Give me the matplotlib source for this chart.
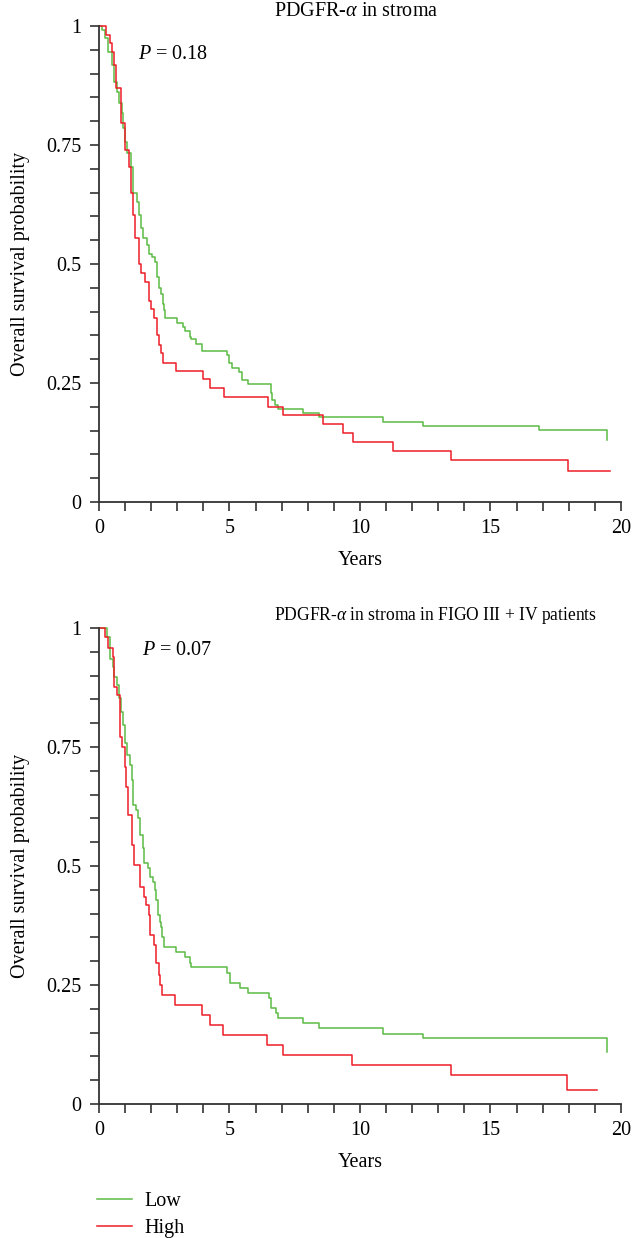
import matplotlib
matplotlib.use('Agg')
import matplotlib.pyplot as plt
from matplotlib.ticker import MultipleLocator

plt.rcParams['font.family'] = ['Liberation Serif', 'DejaVu Serif']
plt.rcParams['mathtext.fontset'] = 'custom'
plt.rcParams['mathtext.rm'] = 'Liberation Serif'
plt.rcParams['mathtext.it'] = 'Liberation Serif:italic'

# --- all patients: step times (years) and survival after each step
top_low_t = [0, 0.10, 0.23, 0.36, 0.50, 0.57, 0.68, 0.78, 0.87, 0.93, 1.01, 1.09, 1.21, 1.29,
             1.44, 1.52, 1.62, 1.70, 1.83, 1.93, 2.05, 2.13, 2.21, 2.30, 2.38, 2.44, 2.49, 2.54,
             2.98, 3.23, 3.31, 3.49, 3.54, 3.72, 3.93, 4.89, 4.99, 5.08, 5.38, 5.47, 5.72, 6.59,
             6.64, 6.74, 6.85, 7.80, 8.43, 10.89, 12.40, 16.85, 19.46]
top_low_s = [1, 0.992, 0.974, 0.946, 0.918, 0.883, 0.862, 0.838, 0.817, 0.785, 0.757, 0.733, 0.704,
             0.649, 0.631, 0.603, 0.575, 0.554, 0.540, 0.522, 0.515, 0.505, 0.473, 0.449, 0.438,
             0.417, 0.403, 0.386, 0.377, 0.368, 0.360, 0.346, 0.342, 0.332, 0.317, 0.309, 0.291,
             0.282, 0.274, 0.256, 0.247, 0.228, 0.214, 0.204, 0.195, 0.186, 0.178, 0.169, 0.160,
             0.152, 0.130]
top_low_end = 19.46

top_high_t = [0, 0.27, 0.42, 0.50, 0.57, 0.65, 0.83, 0.98, 1.14, 1.21, 1.29, 1.37, 1.52, 1.60,
              1.75, 1.90, 1.98, 2.12, 2.21, 2.30, 2.38, 2.44, 2.94, 3.97, 4.25, 4.79, 6.46, 7.04,
              8.59, 9.34, 9.72, 11.28, 13.47, 17.96]
top_high_s = [1, 0.981, 0.964, 0.946, 0.918, 0.870, 0.796, 0.739, 0.704, 0.649, 0.603, 0.554,
              0.499, 0.481, 0.463, 0.422, 0.405, 0.386, 0.351, 0.330, 0.312, 0.293, 0.275, 0.258,
              0.239, 0.220, 0.200, 0.183, 0.163, 0.146, 0.127, 0.108, 0.089, 0.066]
top_high_end = 19.58

# --- FIGO III + IV patients
bot_low_t = [0, 0.31, 0.44, 0.52, 0.59, 0.70, 0.76, 0.85, 0.93, 1.00, 1.08, 1.18, 1.26, 1.31,
             1.41, 1.49, 1.56, 1.67, 1.74, 1.87, 1.95, 2.06, 2.13, 2.20, 2.25, 2.32, 2.38, 2.43,
             2.51, 2.97, 3.29, 3.48, 3.53, 4.89, 5.01, 5.42, 5.70, 6.53, 6.61, 6.79, 6.85, 7.81,
             8.42, 10.89, 12.40, 19.46]
bot_low_s = [1, 0.982, 0.936, 0.919, 0.898, 0.880, 0.852, 0.824, 0.796, 0.758, 0.733, 0.712,
             0.681, 0.628, 0.618, 0.600, 0.565, 0.537, 0.506, 0.495, 0.478, 0.467, 0.450, 0.429,
             0.397, 0.383, 0.372, 0.351, 0.330, 0.320, 0.309, 0.297, 0.287, 0.276, 0.255, 0.244,
             0.234, 0.222, 0.201, 0.191, 0.180, 0.170, 0.159, 0.148, 0.138, 0.110]
bot_low_end = 19.46

bot_high_t = [0, 0.25, 0.34, 0.52, 0.59, 0.70, 0.80, 0.89, 0.98, 1.05, 1.10, 1.28, 1.36, 1.56,
              1.72, 1.79, 1.90, 1.94, 1.97, 2.10, 2.20, 2.29, 2.33, 2.42, 2.93, 3.95, 4.25, 4.76,
              6.44, 7.06, 9.70, 13.47, 17.94]
bot_high_s = [1, 0.982, 0.959, 0.940, 0.877, 0.859, 0.772, 0.751, 0.709, 0.667, 0.607, 0.544,
              0.502, 0.457, 0.436, 0.418, 0.397, 0.376, 0.355, 0.334, 0.296, 0.271, 0.250, 0.229,
              0.208, 0.187, 0.166, 0.145, 0.124, 0.103, 0.083, 0.062, 0.030]
bot_high_end = 19.09

y_ticks = [0, 0.25, 0.5, 0.75, 1]
y_ticklabels = ['0', '0.25', '0.5', '0.75', '1']
x_ticks = [0, 5, 10, 15, 20]

GREEN = '#5cbb45'
RED = '#ee1d27'
AXC = '#333333'
FS = 14.5


def km_step(ax, t, s, end, color, label):
    tt = list(t) + [end]
    ss = list(s) + [s[-1]]
    line, = ax.step(tt, ss, where='post', color=color, lw=1.1, label=label, clip_on=False)
    return line


def style_axes(ax):
    ax.set_xlim(0, 20)
    ax.set_ylim(0, 1)
    ax.spines['top'].set_visible(False)
    ax.spines['right'].set_visible(False)
    for sp in ['left', 'bottom']:
        ax.spines[sp].set_color(AXC)
        ax.spines[sp].set_linewidth(1.3)
    ax.set_xticks(x_ticks)
    ax.set_xticklabels([str(v) for v in x_ticks])
    ax.set_yticks(y_ticks)
    ax.set_yticklabels(y_ticklabels)
    ax.xaxis.set_minor_locator(MultipleLocator(1))
    ax.yaxis.set_minor_locator(MultipleLocator(0.05))
    ax.tick_params(which='both', direction='out', length=6.5, width=1.2, color=AXC,
                   labelsize=FS)
    ax.tick_params(axis='y', pad=6)
    ax.tick_params(axis='x', pad=6)
    ax.set_xlabel('Years', fontsize=FS, labelpad=9)
    ax.set_ylabel('Overall survival probability', fontsize=FS, labelpad=12)


fig = plt.figure(figsize=(6.32, 12.38), dpi=100)
ax1 = fig.add_axes([0.1566, 0.5945, 0.8259, 0.3845])
ax2 = fig.add_axes([0.1566, 0.1082, 0.8259, 0.3845])

km_step(ax1, top_low_t, top_low_s, top_low_end, GREEN, 'Low')
km_step(ax1, top_high_t, top_high_s, top_high_end, RED, 'High')
style_axes(ax1)
ax1.text(0.075, 0.94, r'$P$ = 0.18', transform=ax1.transAxes, fontsize=FS, va='center')
fig.text(274 / 632, 1 - 12 / 1238, r'PDGFR-$\alpha$ in stroma', fontsize=FS,
         ha='left', va='center')

l_low = km_step(ax2, bot_low_t, bot_low_s, bot_low_end, GREEN, 'Low')
l_high = km_step(ax2, bot_high_t, bot_high_s, bot_high_end, RED, 'High')
style_axes(ax2)
ax2.text(0.082, 0.953, r'$P$ = 0.07', transform=ax2.transAxes, fontsize=FS, va='center')
t2 = fig.text(274 / 632, 1 - 615 / 1238, r'PDGFR-$\alpha$ in stroma in FIGO III + IV patients',
              fontsize=FS, ha='left', va='center')

# the reference face is narrower than Liberation Serif: fit the long title to its width
fig.canvas.draw()
w = t2.get_window_extent().width
if w > 324:
    t2.set_fontsize(FS * 324 / w)

fig.legend(handles=[l_low, l_high], labels=['Low', 'High'], loc='upper left',
           bbox_to_anchor=(97 / 632, 1 - 1192 / 1238), frameon=False, fontsize=FS,
           handlelength=1.75, handletextpad=0.6, labelspacing=0.4, borderpad=0,
           borderaxespad=0)

fig.savefig('out.png', dpi=100)
